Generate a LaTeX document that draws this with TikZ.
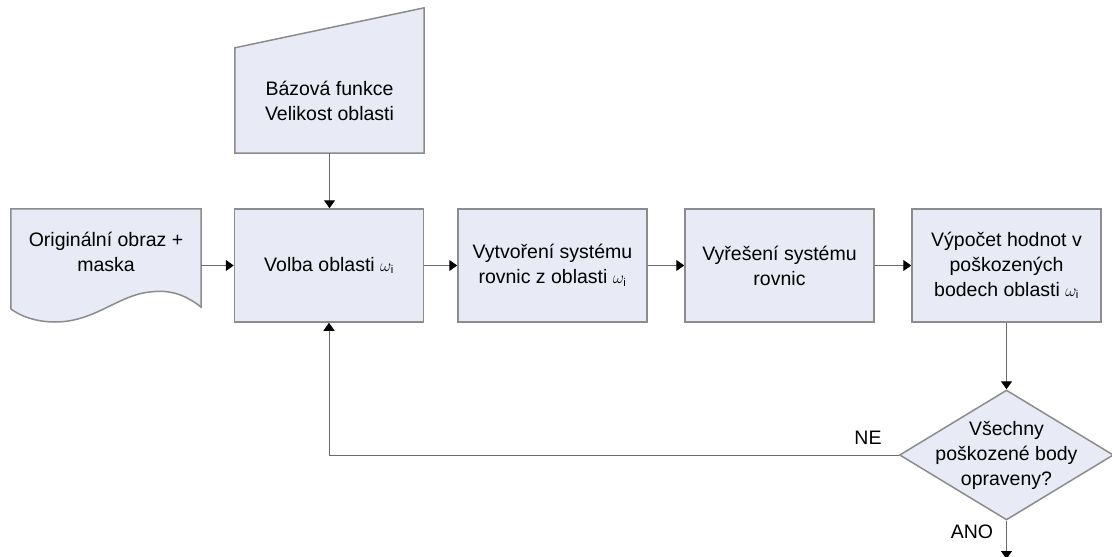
\documentclass[tikz,border=0pt]{standalone}
\usepackage{fontspec}
\setmainfont{Liberation Sans}
\usetikzlibrary{shapes.geometric,arrows.meta,backgrounds}
\definecolor{vypln}{HTML}{E8EAF5}
\definecolor{okraj}{HTML}{8C8C8C}
\definecolor{cara}{HTML}{6A6A6A}
\newcommand{\oi}{{\fontsize{16}{20}\selectfont$\omega_{\mathrm{i}}$}}

\begin{document}
\begin{tikzpicture}[x=1pt,y=-1pt,
    font=\fontsize{19.5}{25}\selectfont,
    blok/.style={draw=okraj,line width=1.5pt,fill=vypln,minimum width=189pt,minimum height=113pt,align=center,inner sep=2pt},
    tok/.style={draw=cara,line width=1pt,-{Triangle[width=11pt,length=8pt,color=black]}}]
    \useasboundingbox (0,0) rectangle (1112,557);

    % Vstupy
    \node[align=center,minimum width=189pt,minimum height=105pt] (vstup) at (329.5,100.5) {Bázová funkce\\Velikost oblasti};
    \node[align=center,minimum width=190pt,minimum height=86pt] (obraz) at (106,252) {Originální obraz +\\maska};
    \begin{scope}[on background layer]
        \draw[draw=okraj,line width=1.5pt,fill=vypln] (vstup.south west) -- (vstup.north west) -- ([yshift=40pt]vstup.north east) -- (vstup.south east) -- cycle;
        \draw[draw=okraj,line width=1.5pt,fill=vypln] (obraz.north west) -- (obraz.north east) -- (201,307)
            .. controls (182,292) and (166,290) .. (150,292)
            .. controls (118,295) and (95,322) .. (55,322)
            .. controls (36,322) and (20,316) .. (11,309) -- cycle;
    \end{scope}

    % Kroky
    \node[blok] (volba) at (329,265.5) {Volba oblasti \oi};
    \node[blok] (system) at (552.5,265.5) {Vytvoření systému\\rovnic z oblasti \oi};
    \node[blok] (reseni) at (779.5,265.5) {Vyřešení systému\\rovnic};
    \node[blok] (vypocet) at (1006.5,265.5) {Výpočet hodnot v\\poškozených\\bodech oblasti \oi};

    % Podminka
    \node[diamond,draw=okraj,line width=1.5pt,fill=vypln,minimum width=214pt,minimum height=130pt,inner sep=0pt,
        label={[align=center]center:Všechny\\poškozené body\\opraveny?}] (test) at (1006.5,455) {};
    \coordinate (konec) at (1006.5,559);

    % Sipky
    \draw[tok] (obraz.east |- volba.west) -- (volba.west);
    \draw[tok] (vstup.south) -- (vstup.south |- volba.north);
    \foreach \a/\b in {volba/system, system/reseni, reseni/vypocet}
        \draw[tok] (\a.east) -- (\b.west);
    \draw[tok] (vypocet.south) -- (test.north);
    \draw[tok] (test.west) -| (volba.south);
    \draw[tok] (test.south) -- (konec);

    % Popisky
    \node (ne) at (868,438) {NE};
    \node (ano) at (972,532) {ANO};
\end{tikzpicture}
\end{document}
